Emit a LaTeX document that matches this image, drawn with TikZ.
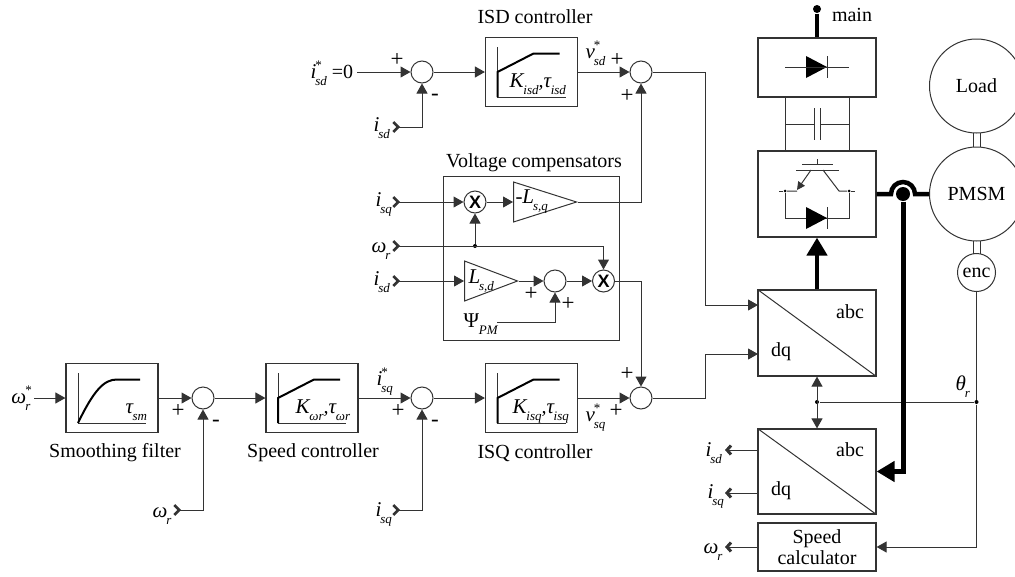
\documentclass[tikz,border=0pt]{standalone}
\usepackage{fontspec}
\setmainfont{Liberation Serif}
\setsansfont{Liberation Sans}
\usepackage{tikz}
\usetikzlibrary{arrows.meta,shapes.geometric}
\newcommand{\sg}[2]{\textit{\fontsize{21}{21}\selectfont #1}\kern-1pt\raisebox{-7pt}{\textit{\fontsize{13}{13}\selectfont #2}}}
\newcommand{\sgs}[2]{\textit{\fontsize{21}{21}\selectfont #1}\kern-1pt\rlap{\raisebox{9pt}{\fontsize{13}{13}\selectfont *}}\raisebox{-7pt}{\textit{\fontsize{13}{13}\selectfont #2}}}
\tikzset{diode/.pic={
\fill (-11,-11) -- (10,0) -- (-11,11) -- cycle;
\draw (10,-11) -- (10,11);}}
\begin{document}
\begin{tikzpicture}[x=1pt, y=-1pt, line width=1pt, draw=black!80,
every node/.style={font=\fontsize{20}{22}\selectfont, inner sep=0pt},
sum node/.style={circle, draw, minimum size=22pt},
mult node/.style={circle, draw, minimum size=22pt, font=\sffamily\bfseries\fontsize{18}{18}\selectfont},
block node/.style={rectangle, draw, line width=1.2pt, minimum width=92pt, minimum height=69pt},
conv node/.style={rectangle, draw, line width=1.2pt, minimum width=118pt, minimum height=85pt},
gain node/.style={isosceles triangle, isosceles triangle stretches, draw, anchor=lower side},
dot node/.style={circle, fill=black, minimum size=4pt},
sign node/.style={font=\fontsize{23}{23}\selectfont},
sig/.style={anchor=base west},
into/.style={-{Triangle[length=10pt,width=11pt]}},
tailedinto/.style={{Straight Barb[reversed,length=5pt,width=10pt,line width=2.6pt]}-{Triangle[length=10pt,width=11pt]}},
outof/.style={-{Straight Barb[length=4pt,width=9pt,line width=3pt]}},
power/.style={line width=4.5pt, draw=black}]
\clip (0,0) rectangle (1015,576);

\node[sum node] (s1) at (422,72) {};
\node[sum node] (s2) at (641,72) {};
\node[sum node] (s3) at (641,398) {};
\node[sum node] (s4) at (203,398) {};
\node[sum node] (s5) at (422,398) {};
\node[sum node] (s6) at (555,281) {};
\node[mult node] (x1) at (475,202) {X};
\node[mult node] (x2) at (603.5,281) {X};

\node[block node] (b1) at (112,398) {};
\node[block node] (b2) at (312,398) {};
\node[block node] (b3) at (531.5,398) {};
\node[block node] (b4) at (531.5,72) {};
\node[conv node, minimum height=86pt] (dq1) at (817,333) {};
\node[conv node] (dq2) at (817,471.5) {};
\node[rectangle, draw, line width=1.2pt, minimum width=118pt, minimum height=48pt, align=center, font=\fontsize{20}{21}\selectfont] (calc) at (817,547) {Speed\\calculator};
\node[rectangle, draw, line width=1.2pt, minimum width=118pt, minimum height=59pt] (rect) at (817,67.5) {};
\node[rectangle, draw, line width=1.2pt, minimum width=118pt, minimum height=86pt] (inv) at (817,194) {};
\node[rectangle, draw, minimum width=176pt, minimum height=164pt] (vc) at (531,258) {};

\node[gain node, minimum width=40pt, minimum height=63pt] (g1) at (513,202) {};
\node[gain node, minimum width=40pt, minimum height=53pt] (g2) at (464,281) {};

\node[circle, draw, minimum size=94pt] (load) at (976.5,86) {Load};
\node[circle, draw, minimum size=94pt] (pmsm) at (976.5,194) {PMSM};
\node[circle, draw, minimum size=38pt] (enc) at (976.5,272.5) {enc};

\node[dot node] (j1) at (475,246) {};
\node[dot node] (j2) at (817,402) {};
\node[dot node] (j3) at (976.5,402) {};
\node[dot node, minimum size=3pt] (j4) at (785,191) {};
\node[dot node, minimum size=3pt] (j5) at (849,191) {};
\node[circle, fill=black, minimum size=14pt] (hop) at (903,194) {};
\node[circle, fill=black, minimum size=8pt] (mains) at (817,9) {};

\coordinate (t1) at (357,72);
\coordinate (t2) at (392,127);
\coordinate (t3) at (392,202);
\coordinate (t4) at (392,246);
\coordinate (t5) at (392,281);
\coordinate (t6) at (497,322);
\coordinate (t7) at (34,398);
\coordinate (t8) at (173,510);
\coordinate (t9) at (392,510);
\coordinate (e1) at (725,450);
\coordinate (e2) at (725,493);
\coordinate (e3) at (725,547);
\coordinate (q1) at (758,305);
\coordinate (q2) at (758,354);
\coordinate (q3) at (758,450);
\coordinate (q4) at (758,493);
\coordinate (w1) at (705,72);
\coordinate (w2) at (705,305);
\coordinate (w3) at (705,398);
\coordinate (w4) at (705,354);
\coordinate (h1) at (891,194);

\path[draw]
(t1) edge[into] (s1)
(s1) edge[into] (b4)
(b4) edge[into] (s2)
(t3) edge[tailedinto] (x1)
(x1) edge[into] (g1.lower side)
(j1) edge[into] (x1)
(t5) edge[tailedinto] (g2.lower side)
(g2.apex) edge[into] (s6)
(s6) edge[into] (x2)
(t7) edge[into] (b1)
(b1) edge[into] (s4)
(s4) edge[into] (b2)
(b2) edge[into] (s5)
(s5) edge[into] (b3)
(b3) edge[into] (s3)
(q3) edge[outof] (e1)
(q4) edge[outof] (e2)
(calc) edge[outof] (e3)
(enc) edge (j3)
(j2) edge (j3)
(dq1) edge[{Triangle[length=10pt,width=11pt]}-{Triangle[length=10pt,width=11pt]}] (dq2);
\draw[tailedinto] (t2) -| (s1);
\draw[into] (g1.apex) -| (s2);
\draw[tailedinto] (t4) -| (x2);
\draw[into] (t6) -| (s6);
\draw[into] (x2) -| (s3);
\draw[tailedinto] (t8) -| (s4);
\draw[tailedinto] (t9) -| (s5);
\draw[into] (s2) -- (w1) -- (w2) -- (q1);
\draw[into] (s3) -- (w3) -- (w4) -- (q2);
\draw[into] (j3) |- (calc);

\foreach \b in {b2,b3,b4} {
\draw[shift={(\b)}] (-34,-25) -- (-34,25) -- (34,25);
\draw[shift={(\b)}, line width=2pt, draw=black] (-34,25) -- (-34,0) -- (2,-18.5) -- (28,-18.5);
}
\draw[shift={(b1)}] (-34,-25) -- (-34,25) -- (34,25);
\draw[shift={(b1)}, line width=2pt, draw=black] (-34,25) .. controls (-18,-8) and (-8,-18.5) .. (5,-18.5) -- (28,-18.5);

\draw (dq1.north west) -- (dq1.south east);
\draw (dq2.north west) -- (dq2.south east);

\draw[power] (mains) -- (rect);
\pic at (817,67) {diode};
\draw (785,67) -- (849,67);
\draw (785,97) -- (785,151) (849,97) -- (849,151);
\draw (785,124) -- (814,124) (820,124) -- (849,124);
\draw (814,108) -- (814,140) (820,108) -- (820,140);
\draw (817,159) -- (817,164) (802,164) -- (833,164) (796,170) -- (839,170);
\draw[-{Triangle[length=8pt,width=8pt]}] (811,170) -- (797,190);
\draw (j4) -- (797,191) (823,170) -- (839,191) -- (j5);
\draw (779,191) -- (j4) (j5) -- (855,191);
\draw (j4) -- (785,218) -- (849,218) -- (j5);
\pic at (817,218) {diode};

\draw[line width=4.5pt, draw=black, -{Triangle[length=18pt,width=20pt]}] (dq1) -- (inv);
\draw[power] (inv) -- (h1) arc (180:360:12) -- (pmsm);
\draw[line width=5pt, draw=black, -{Triangle[length=18pt,width=20pt]}] (hop) |- (dq2);

\draw (973,133) -- (973,147) (980,133) -- (980,147);
\draw (973,241) -- (973,253.5) (980,241) -- (980,253.5);

\node (lb1) at (535,17) {ISD controller};
\node (lb2) at (534,163) {Voltage compensators};
\node (lb3) at (115,453) {Smoothing filter};
\node (lb4) at (313,453) {Speed controller};
\node (lb5) at (535,453) {ISQ controller};
\node (lb6) at (852,15) {main};
\node (lb7) at (850,312) {abc};
\node (lb8) at (781,352) {dq};
\node (lb9) at (850,450) {abc};
\node (lb10) at (781,491) {dq};

\node[sig] (l1) at (310,78) {\sgs{i}{sd}\hspace{5pt}=0};
\node[sig] (l2) at (373,131) {\sg{i}{sd}};
\node[sig] (l3) at (585,58) {\sgs{v}{sd}};
\node[sig] (l4) at (509,87) {\sg{K}{isd}\textit{,}\sg{τ}{isd}};
\node[sig] (l5) at (375,206) {\sg{i}{sq}};
\node[sig] (l6) at (371,252) {\sg{ω}{r}};
\node[sig] (l7) at (373,285) {\sg{i}{sd}};
\node[sig] (l8) at (463,327) {\fontsize{21}{21}\selectfont Ψ\raisebox{-7pt}{\textit{\fontsize{13}{13}\selectfont PM}}};
\node[sig] (l9) at (515,203) {\sg{-L}{s,q}};
\node[sig] (l10) at (468,283) {\sg{L}{s,d}};
\node[sig] (l11) at (11,403) {\sgs{ω}{r}};
\node[sig] (l12) at (125,413) {\sg{τ}{sm}};
\node[sig] (l13) at (295,413) {\sg{K}{ωr}\textit{,}\sg{τ}{ωr}};
\node[sig] (l14) at (152,517) {\sg{ω}{r}};
\node[sig] (l15) at (376,385) {\sgs{i}{sq}};
\node[sig] (l16) at (585,421) {\sgs{v}{sq}};
\node[sig] (l17) at (512,413) {\sg{K}{isq}\textit{,}\sg{τ}{isq}};
\node[sig] (l18) at (375,516) {\sg{i}{sq}};
\node[sig] (l19) at (955,390) {\sg{θ}{r}};
\node[sig] (l20) at (705,456) {\sg{i}{sd}};
\node[sig] (l21) at (707,498) {\sg{i}{sq}};
\node[sig] (l22) at (703,553) {\sg{ω}{r}};

\node[sign node] (p1) at (397,60) {+};
\node[sign node] (m1) at (435,97) {-};
\node[sign node] (p2) at (617,60) {+};
\node[sign node] (p3) at (627,96) {+};
\node[sign node] (p4) at (531,294) {+};
\node[sign node] (p5) at (568,304) {+};
\node[sign node] (p6) at (178,411) {+};
\node[sign node] (m2) at (216,423) {-};
\node[sign node] (p7) at (398,411) {+};
\node[sign node] (m3) at (435,423) {-};
\node[sign node] (p8) at (627,374) {+};
\node[sign node] (p9) at (616,411) {+};
\end{tikzpicture}
\end{document}
